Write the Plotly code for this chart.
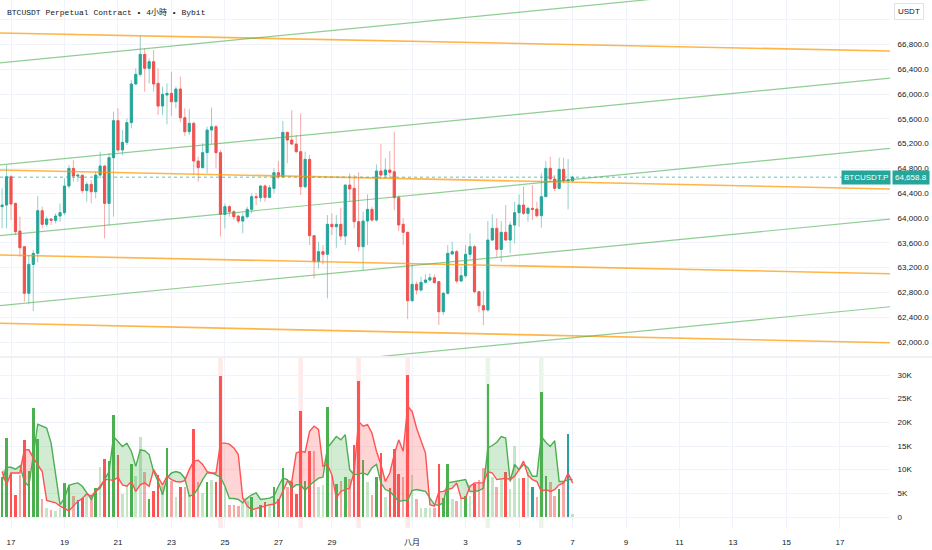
import pandas as pd
import plotly.graph_objects as go

# ---------------- data (4h candles, BTCUSDT.P) ----------------
times = pd.date_range("2024-07-16 16:00", periods=129, freq="4h")

opens = [64183, 64209, 64666, 64236, 63790, 63537, 62785, 63252, 63430, 64118,
         63898, 63984, 63962, 64032, 64086, 64516, 64801, 64677, 64690, 64441,
         64543, 64424, 64693, 64839, 64236, 64973, 65570, 65097, 65220, 65538,
         66161, 66317, 66640, 66414, 66522, 66172, 65806, 65984, 66011, 65876,
         66081, 65618, 65392, 65527, 64919, 64812, 65054, 65419, 65473, 65054,
         64059, 64183, 64102, 64032, 63951, 64021, 64140, 64344, 64328, 64516,
         64333, 64478, 64731, 64666, 65382, 65258, 65193, 65070, 64505, 64946,
         63715, 63295, 63457, 63414, 63898, 63860, 63898, 63709, 64532, 64478,
         63941, 63537, 63951, 64140, 63967, 64758, 64693, 64774, 64747, 64328,
         63898, 63769, 62666, 62930, 62838, 62962, 63000, 63037, 62973, 62489,
         62785, 63420, 63457, 62983, 63069, 63414, 63537, 62811, 62586, 62516,
         63645, 63833, 63494, 63769, 63645, 63887, 64086, 64209, 64075, 64156,
         64145, 64037, 64344, 64801, 64629, 64478, 64785, 64597, 64600]
highs = [64478, 64855, 64690, 64250, 64021, 63550, 63403, 63484, 64355, 64183,
         64021, 63994, 64075, 64236, 64640, 64855, 64935, 64720, 64700, 64586,
         64613, 64747, 65070, 64855, 65043, 65715, 65769, 65419, 65607, 66226,
         66414, 66941, 66737, 66575, 66710, 66414, 66118, 66172, 66360, 66118,
         66280, 65769, 65758, 65554, 64989, 65204, 65473, 65780, 65500, 65097,
         64236, 64209, 64129, 64048, 64075, 64183, 64398, 64398, 64532, 64543,
         64532, 64801, 64919, 65564, 65392, 65742, 65339, 65688, 65070, 65016,
         63725, 63618, 63564, 64048, 64075, 64048, 64166, 64540, 64720, 64693,
         64736, 64102, 64381, 64183, 64865, 65193, 64962, 65080, 65392, 64371,
         63994, 63780, 63252, 62973, 63053, 63091, 63107, 63091, 62984, 62811,
         63564, 63618, 63484, 63215, 63564, 63752, 63564, 62822, 62828, 63951,
         64059, 63994, 63951, 64209, 63941, 64263, 64381, 64505, 64183, 64532,
         64263, 64720, 64919, 64989, 64693, 64973, 64973, 64951, 64680]
lows = [63833, 63833, 63967, 63725, 63376, 62650, 62607, 62500, 63285, 63833,
        63860, 63887, 63914, 63941, 64048, 64478, 64586, 64586, 64398, 64263,
        64236, 64317, 64640, 63672, 63887, 64021, 65070, 65016, 65177, 65446,
        66145, 66280, 66038, 66172, 66038, 65661, 65661, 65511, 65650, 65769,
        65543, 65322, 65339, 64693, 64586, 64801, 64720, 65204, 64801, 63699,
        63833, 64021, 63967, 63914, 63752, 63994, 64075, 64209, 64263, 64263,
        64317, 64398, 64629, 64640, 64882, 65177, 65043, 64371, 64478, 63564,
        63026, 63188, 63252, 62704, 63725, 63521, 63645, 63564, 64263, 63833,
        63467, 63161, 63564, 63941, 63941, 64666, 64640, 64640, 64129, 63790,
        63564, 62370, 62650, 62768, 62811, 62946, 62973, 62946, 62274, 62435,
        62768, 63403, 62946, 62973, 63037, 63349, 62785, 62478, 62274, 62489,
        63629, 63376, 63295, 63629, 63430, 63591, 63860, 64048, 63941, 63967,
        64005, 63844, 64340, 64575, 64435, 64462, 64559, 64140, 64575]
closes = [64209, 64666, 64226, 63779, 63521, 62785, 63252, 63430, 64118, 63898,
          63984, 63962, 64032, 64086, 64516, 64801, 64677, 64690, 64441, 64543,
          64424, 64693, 64839, 64236, 64973, 65570, 65097, 65220, 65538, 66161,
          66317, 66640, 66414, 66522, 66161, 65806, 65995, 66011, 65876, 66081,
          65618, 65392, 65527, 64919, 64812, 65054, 65419, 65473, 65054, 64059,
          64183, 64102, 64021, 63951, 64021, 64140, 64344, 64328, 64516, 64333,
          64489, 64731, 64666, 65382, 65258, 65193, 65070, 64505, 64946, 63715,
          63295, 63457, 63414, 63898, 63860, 63898, 63709, 64532, 64468, 63941,
          63537, 63951, 64140, 63967, 64758, 64693, 64774, 64736, 64328, 63887,
          63769, 62666, 62930, 62838, 62962, 63000, 63037, 62957, 62489, 62785,
          63430, 63457, 62983, 63069, 63414, 63537, 62811, 62586, 62516, 63645,
          63833, 63494, 63769, 63645, 63887, 64086, 64209, 64075, 64156, 64140,
          64037, 64344, 64801, 64629, 64478, 64785, 64597, 64613, 64658.8]

# volume in thousands
volume_k = [8.4, 16.7, 9.3, 4.7, 8.9, 16.3, 9.8, 23.0, 16.5, 3.9,
            1.8, 1.5, 1.3, 1.9, 7.2, 6.7, 4.5, 3.5, 4.0, 4.7,
            4.4, 6.1, 10.6, 12.3, 11.9, 21.6, 13.2, 4.9, 6.8, 11.2,
            8.6, 17.0, 9.6, 3.7, 5.4, 8.8, 6.5, 14.6, 7.7, 4.2,
            6.3, 6.3, 4.7, 18.5, 7.5, 5.1, 7.5, 7.9, 7.3, 29.7,
            6.1, 2.6, 2.6, 2.4, 3.0, 3.3, 4.2, 1.5, 2.5, 3.1,
            2.5, 6.3, 3.7, 10.4, 6.3, 7.5, 4.9, 22.5, 7.7, 13.9,
            13.9, 6.3, 6.8, 23.2, 8.6, 7.0, 7.7, 8.5, 8.1, 15.3,
            28.7, 12.1, 7.5, 4.6, 8.5, 13.5, 4.2, 6.1, 14.4, 9.1,
            8.4, 30.1, 8.9, 3.7, 1.8, 1.9, 1.9, 1.8, 11.2, 4.0,
            11.3, 3.8, 3.3, 4.0, 4.5, 4.4, 7.0, 7.9, 10.4, 28.2,
            8.5, 6.3, 8.1, 9.6, 5.9, 15.1, 8.2, 8.2, 9.5, 6.4,
            4.2, 26.4, 8.6, 7.5, 4.4, 5.9, 7.5, 17.6, 0.6]

# G strong up, g weak up, R strong down, r weak down, T neutral
volume_class = list("GGRRrRGGGr" "grggGGrTRg" "rGgRGGRggG" "ggrGRRgGrg"
                    "RrgRrgGgRR" "grrrggGrGR" "gGRGrRRRGR" "rggGrGrGrR"
                    "RGgrGRgRRR" "rRgrgggrRG" "GgrgGgRrrG" "grgRgggRgT"
                    "rGGrrGrTg")

buy_ma_k = [7.5, 10.5, 10.5, 10.1, 10.8, 7.5, 6.5, 13.2, 19.6, 19.2,
            18.8, 15.6, 8.9, 2.6, 4.0, 6.7, 7.0, 7.2, 6.5, 5.1,
            3.7, 5.4, 6.1, 7.9, 9.6, 17.0, 16.0, 14.9, 15.6, 13.9,
            10.7, 14.2, 14.0, 13.2, 9.6, 7.5, 4.7, 8.2, 9.3, 9.6,
            9.3, 8.2, 4.4, 4.7, 6.1, 7.9, 9.3, 9.3, 8.9, 8.4,
            6.5, 3.9, 3.9, 3.7, 3.0, 4.0, 4.7, 5.1, 3.7, 3.9,
            4.0, 4.4, 6.5, 8.2, 7.9, 6.1, 6.8, 6.8, 5.6, 6.7,
            7.5, 8.2, 8.4, 14.6, 15.8, 17.0, 16.3, 17.4, 10.0, 8.9,
            9.1, 9.3, 8.9, 10.4, 11.1, 7.2, 5.8, 5.4, 4.4, 3.3,
            3.5, 3.5, 5.6, 5.8, 5.6, 5.4, 4.0, 2.6, 2.5, 3.0,
            7.2, 7.4, 7.5, 7.7, 7.9, 5.4, 5.4, 5.6, 6.1, 14.6,
            15.1, 15.8, 17.0, 16.7, 7.5, 11.1, 10.0, 11.1, 10.4, 8.6,
            8.6, 17.0, 15.8, 14.9, 16.1, 7.5, 7.5, 7.9, 7.9]
sell_ma_k = [9.6, 6.8, 9.3, 9.3, 9.3, 14.2, 14.2, 12.5, 11.1, 9.6,
             3.5, 3.2, 3.0, 2.3, 1.8, 1.3, 2.3, 3.3, 3.9, 4.9,
             4.4, 5.4, 6.5, 7.9, 7.9, 7.7, 8.4, 6.8, 6.5, 7.5,
             5.4, 6.8, 7.2, 6.5, 10.0, 8.4, 6.8, 8.6, 7.9, 7.5,
             7.4, 7.7, 10.0, 11.8, 12.0, 11.1, 9.6, 9.3, 9.3, 15.6,
             15.6, 15.4, 14.6, 13.2, 4.0, 2.3, 1.5, 1.8, 2.0, 2.3,
             2.6, 2.7, 3.3, 5.4, 7.5, 7.5, 13.5, 13.9, 13.7, 18.1,
             19.2, 18.5, 10.7, 11.1, 8.9, 4.0, 5.4, 5.8, 6.1, 9.6,
             20.2, 19.2, 19.5, 17.7, 13.9, 11.1, 7.5, 9.3, 13.2, 16.3,
             13.9, 23.4, 22.3, 18.8, 16.0, 13.5, 2.6, 2.3, 5.3, 5.4,
             5.8, 6.1, 7.2, 3.9, 4.0, 6.5, 7.2, 7.2, 7.2, 9.6,
             9.3, 7.9, 8.1, 8.2, 7.9, 8.6, 10.0, 11.8, 8.8, 7.9,
             7.5, 5.4, 5.8, 5.4, 5.8, 6.8, 7.2, 9.3, 7.2]

spike_down_times = ["2024-07-24 20:00", "2024-07-27 20:00", "2024-07-30 00:00", "2024-07-31 20:00"]
spike_up_times = ["2024-08-03 20:00", "2024-08-05 20:00"]

# trendlines: price at 2024-07-17 00:00 and at 2024-08-17 00:00
trend_t = ["2024-07-17 00:00", "2024-08-17 00:00"]
orange_start = [66981, 64771, 63400, 62298]
orange_end = [66710, 64486, 63119, 62006]
green_start = [66518, 64873, 63732, 62603, 61184]
green_end = [67825, 66179, 65045, 63905, 62490]

tick_dates = ["2024-07-17", "2024-07-19", "2024-07-21", "2024-07-23", "2024-07-25",
              "2024-07-27", "2024-07-29", "2024-08-01", "2024-08-03", "2024-08-05",
              "2024-08-07", "2024-08-09", "2024-08-11", "2024-08-13", "2024-08-15",
              "2024-08-17"]
tick_text = ["17", "19", "21", "23", "25", "27", "29", "八月", "3", "5", "7", "9",
             "11", "13", "15", "17"]
price_ticks = list(range(62000, 67201, 400))
vol_ticks = [0, 5, 10, 15, 20, 25, 30]
vol_tick_text = ["0", "5K", "10K", "15K", "20K", "25K", "30K"]

# ---------------- styling / layout ----------------
W, H = 932, 550
UP, DN = "#26a69a", "#ef5350"
TXT = "#131722"
GRID = "#f0f3fa"
FONT = "Liberation Sans, Noto Sans CJK SC, sans-serif"
vol_colors = {"G": "#4caf50", "g": "rgba(76,175,80,0.32)", "R": "#ff5252",
              "r": "rgba(239,83,80,0.5)", "T": "#2a9fa8"}

x_plot_right = 890
t_origin = pd.Timestamp("2024-07-17 00:00")
px_per_day = 26.74
x_start = t_origin - pd.Timedelta(days=11 / px_per_day)
x_end = t_origin + pd.Timedelta(days=(x_plot_right - 11) / px_per_day)

fig = go.Figure()

# wicks (lighter)
up_wx, up_wy, dn_wx, dn_wy = [], [], [], []
for t, o, h, l, c in zip(times, opens, highs, lows, closes):
    if c > o:
        up_wx += [t, t, None]; up_wy += [l, h, None]
    else:
        dn_wx += [t, t, None]; dn_wy += [l, h, None]
fig.add_trace(go.Scatter(x=up_wx, y=up_wy, mode="lines", line=dict(color="rgba(38,166,154,0.5)", width=1),
                         hoverinfo="skip", xaxis="x", yaxis="y"))
fig.add_trace(go.Scatter(x=dn_wx, y=dn_wy, mode="lines", line=dict(color="rgba(239,83,80,0.5)", width=1),
                         hoverinfo="skip", xaxis="x", yaxis="y"))

# bodies
body_hi = [max(o, c) for o, c in zip(opens, closes)]
body_lo = [min(o, c) for o, c in zip(opens, closes)]
fig.add_trace(go.Candlestick(x=times, open=opens, high=body_hi, low=body_lo, close=closes,
                             increasing=dict(line=dict(color=UP, width=1), fillcolor=UP),
                             decreasing=dict(line=dict(color=DN, width=1), fillcolor=DN),
                             whiskerwidth=0, hoverinfo="skip", xaxis="x", yaxis="y"))

# trendlines
ta, tb = pd.Timestamp(trend_t[0]), pd.Timestamp(trend_t[1])
ext = [x_start - pd.Timedelta(days=1), x_end + pd.Timedelta(days=1)]


def extend(pa, pb):
    span = (tb - ta).total_seconds()
    return [pa + (pb - pa) * (t - ta).total_seconds() / span for t in ext]


for pa, pb in zip(orange_start, orange_end):
    fig.add_trace(go.Scatter(x=ext, y=extend(pa, pb), mode="lines",
                             line=dict(color="rgba(255,152,0,0.72)", width=1.6),
                             hoverinfo="skip", xaxis="x", yaxis="y"))
for pa, pb in zip(green_start, green_end):
    fig.add_trace(go.Scatter(x=ext, y=extend(pa, pb), mode="lines",
                             line=dict(color="rgba(76,175,80,0.62)", width=1.2),
                             hoverinfo="skip", xaxis="x", yaxis="y"))

# volume bars
bar_w = pd.Timedelta(hours=4).total_seconds() * 1000 * 0.58
fig.add_trace(go.Bar(x=times, y=volume_k, marker=dict(color=[vol_colors[k] for k in volume_class], line=dict(width=0)),
                     width=bar_w, hoverinfo="skip", xaxis="x2", yaxis="y2"))

# fills between the two volume averages
hi_buy = [max(b, s) for b, s in zip(buy_ma_k, sell_ma_k)]
fig.add_trace(go.Scatter(x=times, y=sell_ma_k, mode="lines", line=dict(width=0), hoverinfo="skip",
                         xaxis="x2", yaxis="y2"))
fig.add_trace(go.Scatter(x=times, y=hi_buy, mode="lines", line=dict(width=0), fill="tonexty",
                         fillcolor="rgba(76,175,80,0.25)", hoverinfo="skip", xaxis="x2", yaxis="y2"))
fig.add_trace(go.Scatter(x=times, y=buy_ma_k, mode="lines", line=dict(width=0), hoverinfo="skip",
                         xaxis="x2", yaxis="y2"))
fig.add_trace(go.Scatter(x=times, y=hi_buy, mode="lines", line=dict(width=0), fill="tonexty",
                         fillcolor="rgba(255,82,82,0.25)", hoverinfo="skip", xaxis="x2", yaxis="y2"))
fig.add_trace(go.Scatter(x=times, y=buy_ma_k, mode="lines", line=dict(color="#4caf50", width=1.4),
                         hoverinfo="skip", xaxis="x2", yaxis="y2"))
fig.add_trace(go.Scatter(x=times, y=sell_ma_k, mode="lines", line=dict(color="#ff5252", width=1.4),
                         hoverinfo="skip", xaxis="x2", yaxis="y2"))

shapes = []
for ts, col in [(spike_down_times, "rgba(255,82,82,0.13)"), (spike_up_times, "rgba(76,175,80,0.13)")]:
    for t in ts:
        t = pd.Timestamp(t)
        shapes.append(dict(type="rect", xref="x2", yref="y2 domain", x0=t - pd.Timedelta(hours=2),
                           x1=t + pd.Timedelta(hours=2), y0=0, y1=1, fillcolor=col,
                           line=dict(width=0), layer="below"))
shapes.append(dict(type="line", xref="x domain", yref="y", x0=0, x1=1, y0=closes[-1], y1=closes[-1],
                   line=dict(color="rgba(38,166,154,0.7)", width=1, dash="dot")))
shapes.append(dict(type="line", xref="paper", yref="paper", x0=0, x1=1, y0=1 - 357 / H, y1=1 - 357 / H,
                   line=dict(color="#e0e3eb", width=1)))

last_txt = f"{closes[-1]:,.1f}"
annotations = [
    dict(text="BTCUSDT Perpetual Contract • 4小時 • Bybit", xref="paper", yref="paper",
         x=5 / W, y=1 - 12 / H, xanchor="left", yanchor="middle", showarrow=False,
         font=dict(family="Liberation Mono, Noto Sans CJK TC, monospace", size=8, color=TXT)),
    dict(text="USDT", xref="paper", yref="paper", x=909 / W, y=1 - 11 / H, xanchor="center",
         yanchor="middle", showarrow=False, bgcolor="white", bordercolor="#e0e3eb", borderwidth=1,
         borderpad=3, font=dict(family=FONT, size=8, color=TXT)),
    dict(text=last_txt, xref="paper", yref="y", x=892 / W, y=closes[-1], xanchor="left",
         yanchor="middle", showarrow=False, bgcolor=UP, borderpad=2,
         font=dict(family=FONT, size=8, color="white")),
    dict(text="BTCUSDT.P", xref="paper", yref="y", x=891 / W, y=closes[-1], xanchor="right",
         yanchor="middle", showarrow=False, bgcolor=UP, borderpad=2,
         font=dict(family=FONT, size=8, color="white")),
]

price_dom = [1 - 356 / H, 1]
vol_dom = [1 - 528 / H, 1 - 358 / H]
p_bottom = 62000 - (356 - 342) * 16.13
p_top = 62000 + 342 * 16.13
v_bottom = -(528 - 517) / 4.733
v_top = (517 - 358) / 4.733

fig.update_layout(
    template="none", width=W, height=H, margin=dict(l=0, r=0, t=0, b=0),
    paper_bgcolor="white", plot_bgcolor="white", showlegend=False,
    font=dict(family=FONT, size=8, color=TXT),
    shapes=shapes, annotations=annotations, bargap=0,
    xaxis=dict(domain=[0, x_plot_right / W], anchor="y", type="date", range=[x_start, x_end],
               tickvals=tick_dates, showticklabels=False, showgrid=True, gridcolor=GRID,
               gridwidth=1, zeroline=False, showline=False, rangeslider=dict(visible=False),
               automargin=False),
    xaxis2=dict(domain=[0, x_plot_right / W], anchor="y2", type="date", range=[x_start, x_end],
                matches="x", tickvals=tick_dates, ticktext=tick_text, showgrid=True, gridcolor=GRID,
                zeroline=False, showline=False, ticks="outside", ticklen=6,
                tickcolor="rgba(0,0,0,0)", tickfont=dict(family=FONT, size=8, color=TXT),
                automargin=False),
    yaxis=dict(domain=price_dom, anchor="x", side="right", range=[p_bottom, p_top],
               tickvals=price_ticks,
               ticktext=[f"{v:,.1f}" if v < 67200 else "" for v in price_ticks],
               showgrid=True, gridcolor=GRID, zeroline=False, showline=False, ticks="outside",
               ticklen=5, tickcolor="rgba(0,0,0,0)", tickfont=dict(family=FONT, size=8, color=TXT),
               automargin=False),
    yaxis2=dict(domain=vol_dom, anchor="x2", side="right", range=[v_bottom, v_top],
                tickvals=vol_ticks, ticktext=vol_tick_text, showgrid=True, gridcolor=GRID,
                zeroline=False, showline=False, ticks="outside", ticklen=5,
                tickcolor="rgba(0,0,0,0)", tickfont=dict(family=FONT, size=8, color=TXT),
                automargin=False),
)

fig.write_html("out.html", config={"displayModeBar": False},
               post_script="document.body.style.margin='0';document.body.style.overflow='hidden';")
